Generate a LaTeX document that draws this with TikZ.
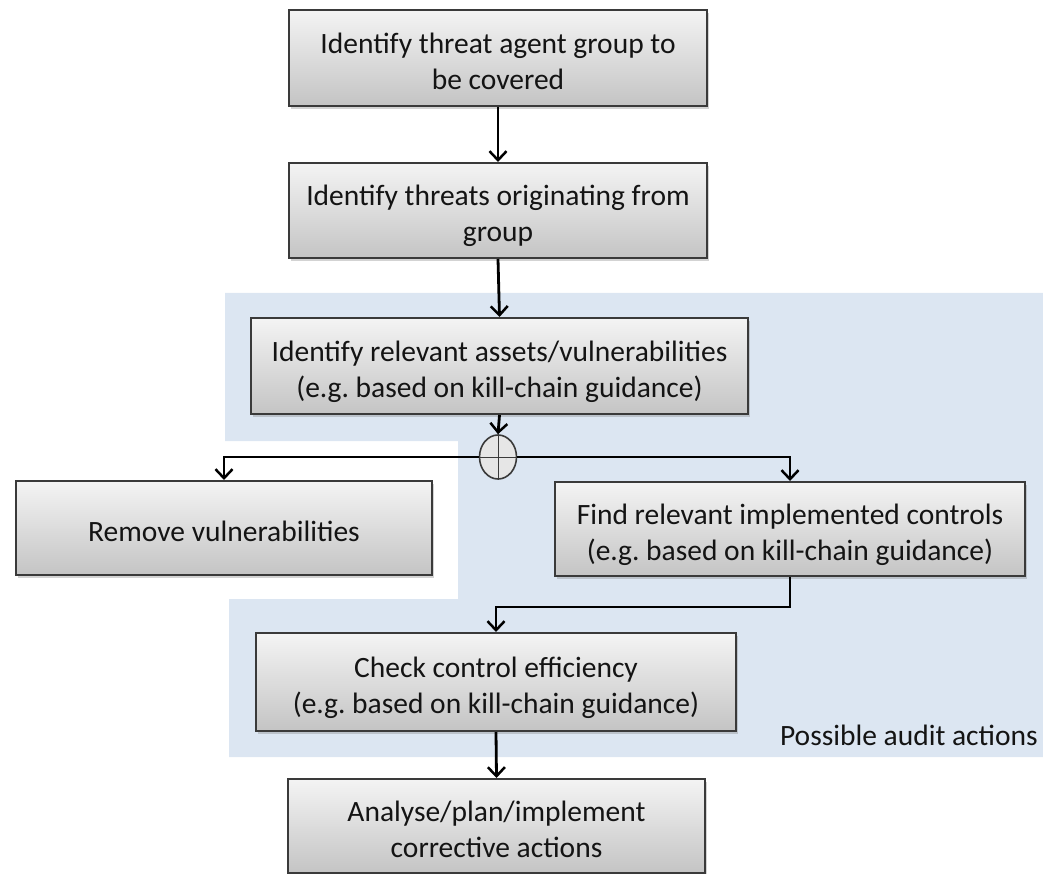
\documentclass[tikz,border=0pt]{standalone}
\usepackage{fontspec}
\setmainfont{Carlito}
\usetikzlibrary{arrows.meta,shadows,shapes.geometric}
\frenchspacing

\definecolor{boxtop}{RGB}{244,244,244}
\definecolor{boxbot}{RGB}{196,196,196}
\definecolor{boxline}{RGB}{58,58,58}
\definecolor{auditblue}{RGB}{220,230,242}
\definecolor{txt}{RGB}{20,20,20}

% struts that give every box label the same vertical placement
\newcommand\boxtopstrut{\rule{0pt}{35pt}}
\newcommand\boxbotstrut{\rule[-8pt]{0pt}{8pt}}

\tikzset{
  stepbox/.style={
    rectangle, draw=boxline, line width=2pt,
    top color=boxtop, bottom color=boxbot,
    drop shadow={shadow xshift=2pt, shadow yshift=-3pt, opacity=0.35},
    inner sep=0pt, align=center, text=txt,
    font=\fontsize{29.5}{36}\selectfont
  },
  conn/.style={line width=2.8pt, line join=miter,
    -{Straight Barb[length=9pt, width=17pt, line width=2.5pt]}},
  plain/.style={line width=2.8pt, line join=miter}
}

\begin{document}
\begin{tikzpicture}[x=1pt, y=-1pt]
\useasboundingbox (0,0) rectangle (1043,874);

% shaded area of audit actions, with the notch around the left branch
\fill[auditblue] (225,293) -- (1043,293) -- (1043,757) -- (229,757)
  -- (229,599) -- (458,599) -- (458,441) -- (225,441) -- cycle;

\node[stepbox, minimum width=418pt, minimum height=96pt] (agent) at (498,58)
  {\boxtopstrut Identify threat agent group to\\be covered\boxbotstrut};
\node[stepbox, minimum width=418pt, minimum height=95pt] (threats) at (498,210.5)
  {\boxtopstrut Identify threats originating from\\group\boxbotstrut};
\node[stepbox, minimum width=497pt, minimum height=96pt] (assets) at (499.5,366)
  {\boxtopstrut Identify relevant assets/vulnerabilities\\(e.g. based on kill-chain guidance)\boxbotstrut};
\node[stepbox, minimum width=416pt, minimum height=94pt] (remove) at (224,528)
  {\boxtopstrut Remove vulnerabilities\boxbotstrut};
\node[stepbox, minimum width=470pt, minimum height=94pt] (controls) at (790,529)
  {\boxtopstrut Find relevant implemented controls\\(e.g. based on kill-chain guidance)\boxbotstrut};
\node[stepbox, minimum width=480pt, minimum height=98pt] (check) at (496,682)
  {\boxtopstrut Check control efficiency\\(e.g. based on kill-chain guidance)\boxbotstrut};
\node[stepbox, minimum width=417pt, minimum height=94pt] (fix) at (496.5,826)
  {\boxtopstrut Analyse/plan/implement\\corrective actions\boxbotstrut};

\node[anchor=base east, text=txt, font=\fontsize{29.5}{36}\selectfont, inner sep=0pt]
  (label) at (1038,745) {Possible audit actions};

% connectors
\draw[conn] (agent.south) -- (threats.north);
\draw[conn] (threats.south) -- (assets.north);

\coordinate (split) at (498,457);
\draw[plain] (split) -- (remove.north |- split);
\draw[plain] (split) -- (controls.north |- split);

% junction (OR-split)
\node[ellipse, draw=boxline, line width=1.6pt, fill=boxtop!70!boxbot,
      minimum width=37pt, minimum height=44pt, inner sep=0pt] (junc) at (split) {};
\draw[boxline, line width=1pt] (junc.north) -- (junc.south);
\draw[boxline, line width=1pt] (junc.west) -- (junc.east);

\draw[conn] (assets.south) -- (junc.north);
\draw[conn] (junc.west) -| (remove.north);
\draw[conn] (junc.east) -| (controls.north);
\draw[conn] (controls.south) -- ++(0,30) -| (check.north);
\draw[conn] (check.south) -- (fix.north);
\end{tikzpicture}
\end{document}
